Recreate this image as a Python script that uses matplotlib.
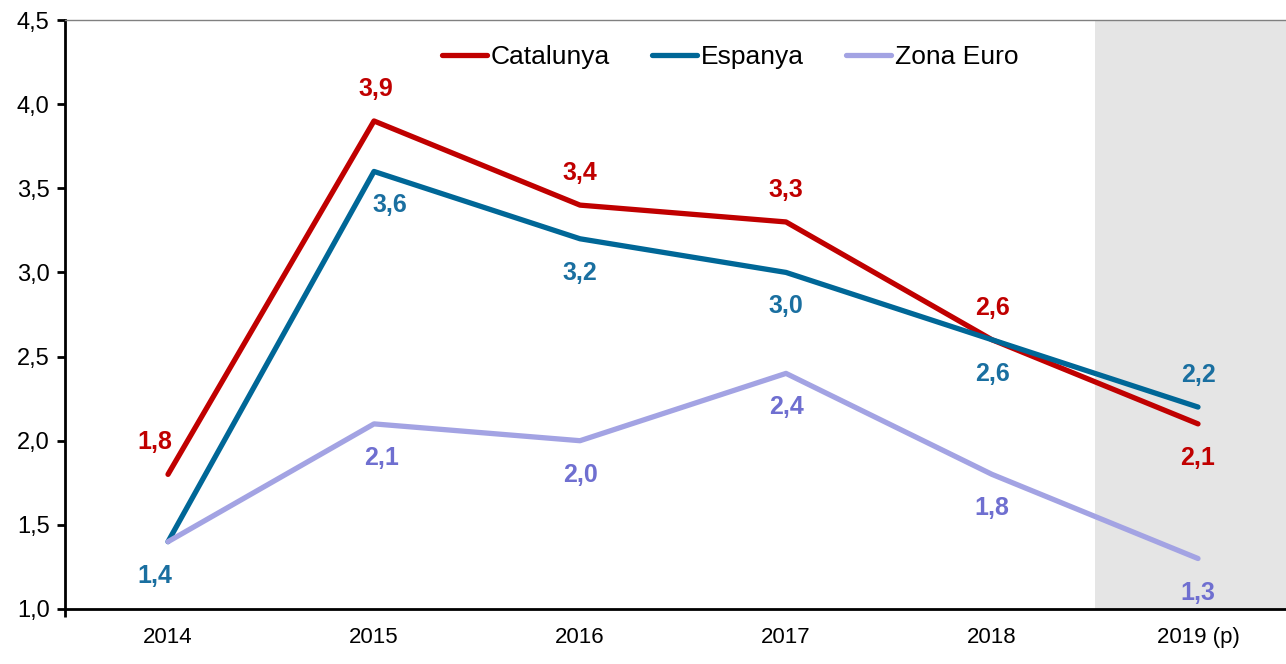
import numpy as np
import matplotlib.pyplot as plt

plt.rcParams['font.family'] = ['Liberation Sans', 'DejaVu Sans']

years = ["2014", "2015", "2016", "2017", "2018", "2019 (p)"]
catalunya = [1.8, 3.9, 3.4, 3.3, 2.6, 2.1]
espanya = [1.4, 3.6, 3.2, 3.0, 2.6, 2.2]
zona_euro = [1.4, 2.1, 2.0, 2.4, 1.8, 1.3]

def fmt(v):
    return ("%.1f" % v).replace(".", ",")

fig = plt.figure(figsize=(12.86, 6.64), dpi=100)
ax = fig.add_axes([65/1286, 55/664, 1 - 65/1286, 589/664])
x = np.arange(len(years))

ax.axvspan(4.5, 5.5, color="#e5e5e5", zorder=0, lw=0)

# label side: 1 above, -1 below, 0 none
series = [
    ("Catalunya", catalunya, "#c00000", "#c00000", [1, 1, 1, 1, 1, -1], [-13, 2, 0, 0, 0, 0]),
    ("Espanya", espanya, "#006797", "#1a6fa0", [-1, -1, -1, -1, -1, 1], [-13, 16, 0, 0, 0, 0]),
    ("Zona Euro", zona_euro, "#a3a3e3", "#6f6fd0", [0, -1, -1, -1, -1, -1], [0, 8, 0, 0, 0, 0]),
]
for name, vals, col, lcol, pos, shift in series:
    ax.plot(x, vals, color=col, lw=3.8, solid_capstyle="round", label=name, zorder=3)
    for xi, v, p, dx in zip(x, vals, pos, shift):
        if p == 0:
            continue
        dy = 32 if p > 0 else -34
        ax.annotate(fmt(v), (xi, v), xytext=(dx, dy), textcoords="offset pixels",
                    ha="center", va="center", fontsize=18, fontweight="bold",
                    color=lcol, zorder=4)

ax.set_xlim(-0.5, (1286 - 168) / 206)
ax.set_ylim(1.0, 4.5)
ax.set_yticks(np.arange(1.0, 4.51, 0.5))
ax.set_yticklabels([fmt(v) for v in np.arange(1.0, 4.51, 0.5)], fontsize=17)
ax.set_xticks(x)
ax.set_xticklabels(years, fontsize=16)
ax.set_xticks([-0.5], minor=True)
ax.tick_params(axis="x", which="major", length=0, pad=13)
ax.tick_params(axis="x", which="minor", length=6, width=2, direction="out")
ax.tick_params(axis="y", length=6, width=2, direction="out", pad=5)

ax.spines["right"].set_visible(False)
ax.spines["top"].set_color("#808080")
ax.spines["top"].set_linewidth(1)
ax.spines["left"].set_linewidth(2)
ax.spines["bottom"].set_linewidth(2)

fig.legend(loc="center", bbox_to_anchor=(730/1286, 1 - 57/664), ncol=3,
           frameon=False, fontsize=19, handlelength=1.7, handletextpad=0.15,
           columnspacing=1.6)

fig.savefig("out.png", dpi=100)
